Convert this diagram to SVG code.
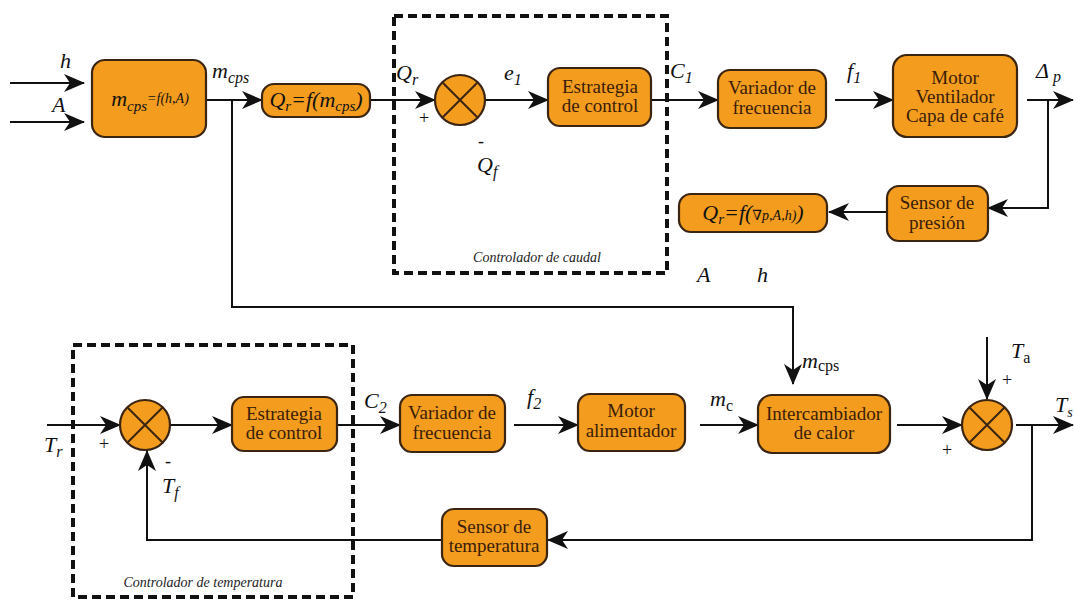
<svg xmlns="http://www.w3.org/2000/svg" width="1074" height="601" viewBox="0 0 1074 601" font-family="'Liberation Serif', 'DejaVu Serif', serif">
<style>
text{font-family:'Liberation Serif','DejaVu Serif',serif}
.box{fill:#f39c1e;stroke:#3a2412;stroke-width:2.2}
.sum{fill:#f39c1e;stroke:#3a2412;stroke-width:2.2}
.x{stroke:#3a2412;stroke-width:2}
.bt{font-size:19px;fill:#3a1d08;text-anchor:middle}
.lb{font-size:22px;font-style:italic;fill:#111}
.sg{font-size:18px;fill:#111}
.cap{font-size:14px;font-style:italic;fill:#222;text-anchor:middle}
.ln{fill:none;stroke:#111;stroke-width:2}
.ar{marker-end:url(#ah)}
.dash{fill:none;stroke:#111;stroke-width:4;stroke-dasharray:9 5}
</style>
<defs>
<marker id="ah" markerUnits="userSpaceOnUse" markerWidth="24" markerHeight="20" refX="20" refY="9" orient="auto">
<path d="M0,0 L21,9 L0,18 L6,9 z" fill="#111"/>
</marker>
</defs>
<rect width="1074" height="601" fill="#fff"/>

<g id="connectors">
<path class="ln ar" d="M10,83 H84"/>
<path class="ln ar" d="M10,122 H84"/>
<path class="ln ar" d="M206,100 H262"/>
<path class="ln ar" d="M232,100 V307 H793 V384"/>
<path class="ln ar" d="M370,100 H435"/>
<path class="ln ar" d="M485,100 H548"/>
<path class="ln ar" d="M651,100 H718"/>
<path class="ln ar" d="M835,100 H893"/>
<path class="ln ar" d="M1027,100 H1073"/>
<path class="ln ar" d="M1048,100 V208 H988"/>
<path class="ln ar" d="M886,212 H829"/>
<path class="ln ar" d="M47,425 H120"/>
<path class="ln ar" d="M171,425 H232"/>
<path class="ln ar" d="M337,425 H400"/>
<path class="ln ar" d="M514,425 H578"/>
<path class="ln ar" d="M700,425 H758"/>
<path class="ln ar" d="M897,425 H962"/>
<path class="ln ar" d="M987,337 V399"/>
<path class="ln ar" d="M1016,425 H1073"/>
<path class="ln ar" d="M1032,425 V540 H548"/>
<path class="ln ar" d="M442,540 H147 V451"/>
</g>

<g id="controlador-caudal">
<rect class="dash" x="394" y="16" width="273" height="257"/>
<text class="cap" x="537" y="262">Controlador de caudal</text>
</g>
<g id="controlador-temperatura">
<rect class="dash" x="73" y="345" width="280" height="252"/>
<text class="cap" x="203" y="587">Controlador de temperatura</text>
</g>

<g id="labels">
<text class="lb" x="60" y="68">h</text>
<text class="lb" x="52" y="112">A</text>
<text class="lb" x="212" y="78">m<tspan font-size="16" dy="5">cps</tspan></text>
<text class="lb" x="396" y="80">Q<tspan font-size="16" dy="5">r</tspan></text>
<text class="sg" x="419" y="124">+</text>
<text class="sg" x="478" y="147">-</text>
<text class="lb" x="477" y="172">Q<tspan font-size="16" dy="5">f</tspan></text>
<text class="lb" x="504" y="80">e<tspan font-size="16" dy="5">1</tspan></text>
<text class="lb" x="670" y="78">C<tspan font-size="16" dy="5">1</tspan></text>
<text class="lb" x="847" y="78">f<tspan font-size="16" dy="5">1</tspan></text>
<text class="lb" x="1036" y="78" font-style="normal">Δ<tspan font-style="italic" font-size="16" dy="4"> p</tspan></text>
<text class="lb" x="697" y="282">A</text>
<text class="lb" x="757" y="282">h</text>
<text class="lb" x="44" y="452">T<tspan font-size="16" dy="5">r</tspan></text>
<text class="sg" x="99" y="450">+</text>
<text class="sg" x="165" y="467">-</text>
<text class="lb" x="162" y="493">T<tspan font-size="16" dy="5">f</tspan></text>
<text class="lb" x="364" y="408">C<tspan font-size="16" dy="5">2</tspan></text>
<text class="lb" x="527" y="404">f<tspan font-size="16" dy="5">2</tspan></text>
<text class="lb" x="710" y="406">m<tspan font-size="16" dy="5" font-style="normal">c</tspan></text>
<text class="lb" x="802" y="368">m<tspan font-size="16" dy="3" font-style="normal">cps</tspan></text>
<text class="lb" x="1011" y="358">T<tspan font-size="16" dy="5" font-style="normal">a</tspan></text>
<text class="sg" x="1002" y="386">+</text>
<text class="sg" x="942" y="456">+</text>
<text class="lb" x="1055" y="412">T<tspan font-size="14" dy="5">s</tspan></text>
</g>

<g id="n-mcps">
<rect class="box" x="92" y="60" width="114" height="77" rx="13"/>
<text class="lb" x="150" y="106" text-anchor="middle" fill="#3a1d08" font-size="20">m<tspan font-size="15" dy="5">cps</tspan><tspan font-size="14" dy="-8">=f(h,A)</tspan></text>
</g>
<g id="n-qr1">
<rect class="box" x="262" y="84" width="108" height="33" rx="12"/>
<text class="lb" x="316" y="107" text-anchor="middle" fill="#3a1d08" font-size="20">Q<tspan font-size="15" dy="4">r</tspan><tspan dy="-4">=f(m</tspan><tspan font-size="15" dy="4">cps</tspan><tspan dy="-4">)</tspan></text>
</g>
<g id="n-sum1">
<circle class="sum" cx="460" cy="100" r="25"/>
<path class="x" d="M442,82 L478,118 M478,82 L442,118"/>
</g>
<g id="n-estrategia1">
<rect class="box" x="548" y="68" width="103" height="58" rx="12"/>
<text class="bt" x="600" y="93">Estrategia</text>
<text class="bt" x="600" y="112">de control</text>
</g>
<g id="n-variador1">
<rect class="box" x="718" y="70" width="108" height="58" rx="12"/>
<text class="bt" x="772" y="94">Variador de</text>
<text class="bt" x="772" y="114">frecuencia</text>
</g>
<g id="n-motor1">
<rect class="box" x="893" y="55" width="124" height="82" rx="14"/>
<text class="bt" x="955" y="84">Motor</text>
<text class="bt" x="955" y="103">Ventilador</text>
<text class="bt" x="955" y="122">Capa de café</text>
</g>
<g id="n-sensor-presion">
<rect class="box" x="887" y="186" width="101" height="55" rx="12"/>
<text class="bt" x="937" y="209">Sensor de</text>
<text class="bt" x="937" y="229">presión</text>
</g>
<g id="n-qr2">
<rect class="box" x="679" y="194" width="148" height="38" rx="12"/>
<text class="lb" x="753" y="220" text-anchor="middle" fill="#3a1d08" font-size="20">Q<tspan font-size="15" dy="4">r</tspan><tspan dy="-4">=f(</tspan><tspan font-size="14">∇p,A,h)</tspan><tspan>)</tspan></text>
</g>

<g id="n-sum2">
<circle class="sum" cx="145" cy="425" r="25"/>
<path class="x" d="M127,407 L163,443 M163,407 L127,443"/>
</g>
<g id="n-estrategia2">
<rect class="box" x="232" y="397" width="105" height="54" rx="12"/>
<text class="bt" x="284" y="420">Estrategia</text>
<text class="bt" x="284" y="439">de control</text>
</g>
<g id="n-variador2">
<rect class="box" x="400" y="395" width="105" height="57" rx="12"/>
<text class="bt" x="452" y="419">Variador de</text>
<text class="bt" x="452" y="439">frecuencia</text>
</g>
<g id="n-motor2">
<rect class="box" x="578" y="394" width="107" height="57" rx="12"/>
<text class="bt" x="631" y="417">Motor</text>
<text class="bt" x="631" y="437">alimentador</text>
</g>
<g id="n-intercambiador">
<rect class="box" x="758" y="395" width="132" height="58" rx="14"/>
<text class="bt" x="824" y="420">Intercambiador</text>
<text class="bt" x="824" y="439">de calor</text>
</g>
<g id="n-sum3">
<circle class="sum" cx="987" cy="425" r="25"/>
<path class="x" d="M969,407 L1005,443 M1005,407 L969,443"/>
</g>
<g id="n-sensor-temp">
<rect class="box" x="442" y="509" width="105" height="57" rx="12"/>
<text class="bt" x="494" y="533">Sensor de</text>
<text class="bt" x="494" y="552">temperatura</text>
</g>
</svg>
